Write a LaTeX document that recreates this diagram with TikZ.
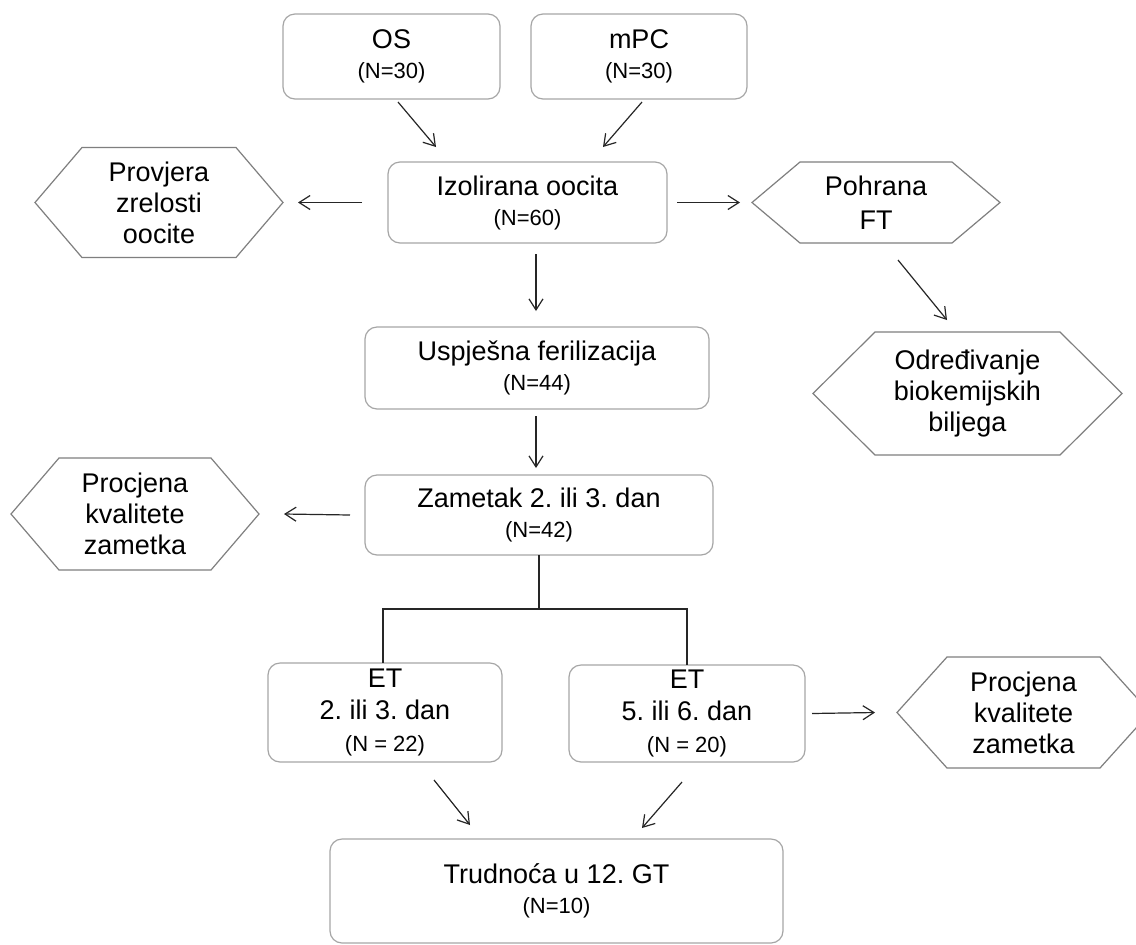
\documentclass[tikz,border=0pt]{standalone}
\usepackage{fontspec}
\setmainfont{Liberation Sans}
\usetikzlibrary{arrows.meta, calc, positioning}
\frenchspacing

\definecolor{boxgray}{HTML}{A6A6A6}
\definecolor{hexgray}{HTML}{7F7F7F}
\definecolor{linegray}{HTML}{262626}

\newcommand{\hexframe}[2]{%
  \draw[hexline] (#1.west) -- ([xshift=#2]#1.north west) -- ([xshift=-#2]#1.north east)
    -- (#1.east) -- ([xshift=-#2]#1.south east) -- ([xshift=#2]#1.south west) -- cycle;}
\newcommand{\nsmall}[1]{{\fontsize{11}{15}\selectfont #1}}

\begin{document}
\begin{tikzpicture}[x=0.5pt, y=-0.5pt,
  box/.style={draw=boxgray, line width=0.6pt, rounded corners=6pt, align=center,
    inner sep=0pt, outer sep=0pt, font=\fontsize{13.5}{15}\selectfont},
  hexbox/.style={align=center, inner sep=0pt, outer sep=0pt,
    font=\fontsize{13.5}{15.5}\selectfont},
  hexline/.style={draw=hexgray, line width=0.6pt},
  arr/.style={draw=linegray, line width=0.6pt, -{Straight Barb[length=5.5pt,width=7pt]}},
  link/.style={draw=linegray, line width=0.6pt}]

\fill[white] (0,0) rectangle (1136,944);
\useasboundingbox (0,0) rectangle (1136,944);

\node[box, minimum width=108.5pt, minimum height=42.5pt] (os) at (391.5,56.5) {OS\\\nsmall{(N=30)}};
\node[box, minimum width=108pt, minimum height=42.5pt] (mpc) at (639,56.5) {mPC\\\nsmall{(N=30)}};
\node[box, minimum width=139.5pt, minimum height=40.5pt] (izo) at (527.5,202.5) {Izolirana oocita\\\nsmall{(N=60)}};
\node[box, minimum width=172pt, minimum height=41pt] (usp) at (537,368) {Uspješna ferilizacija\\\nsmall{(N=44)}};
\node[box, minimum width=174pt, minimum height=40pt] (zam) at (539,515) {Zametak 2. ili 3. dan\\\nsmall{(N=42)}};
\node[box, minimum width=117pt, minimum height=49.5pt] (etl) at (385,712.5) {ET\\[1pt]2. ili 3. dan\\[1pt]\nsmall{(N = 22)}};
\node[box, minimum width=118pt, minimum height=48.5pt] (etr) at (687,713.5) {ET\\[1pt]5. ili 6. dan\\[1pt]\nsmall{(N = 20)}};
\node[box, minimum width=226.5pt, minimum height=52pt] (tru) at (556.5,891) {Trudnoća u 12. GT\\\nsmall{(N=10)}};

\node[hexbox, minimum width=124pt, minimum height=55pt] (prov) at (159,202.5) {Provjera\\zrelosti\\oocite};
\node[hexbox, minimum width=124pt, minimum height=40.5pt] (poh) at (876,202.5) {Pohrana\\[1.5pt]FT};
\node[hexbox, minimum width=154.5pt, minimum height=61.5pt] (odr) at (967.5,393.5) {Određivanje\\biokemijskih\\biljega};
\node[hexbox, minimum width=124pt, minimum height=56pt] (proc1) at (135,514) {Procjena\\kvalitete\\zametka};
\node[hexbox, minimum width=126.5pt, minimum height=55.5pt] (proc2) at (1023.5,712.5) {Procjena\\kvalitete\\zametka};

\hexframe{prov}{23.5pt}
\hexframe{poh}{24pt}
\hexframe{odr}{31pt}
\hexframe{proc1}{24pt}
\hexframe{proc2}{25pt}

\draw[arr] ($(os.south)+(6.5,3)$) -- ($(izo.north)+(-91.5,-15)$);
\draw[arr] ($(mpc.south)+(3,3)$) -- ($(izo.north)+(75.5,-15)$);
\draw[arr] ([xshift=-13pt]izo.west) -- ([xshift=7.5pt]prov.east);
\draw[arr] ([xshift=5pt]izo.east) -- ([xshift=-6pt]poh.west);
\draw[arr] ($(poh.south)+(22,17)$) -- ($(odr.north)+(-20.5,-12)$);
\draw[arr] ($(izo.south -| usp.north)+(-1,11)$) -- ($(usp.north)+(-1,-16)$);
\draw[arr] ($(usp.south)+(-1,7)$) -- ($(usp.south |- zam.north)+(-1,-7)$);
\draw[arr] ([xshift=-7.5pt]zam.west) -- ([xshift=12.5pt]proc1.east);

\coordinate (fork) at (539,609);
\draw[link] (zam.south) -- (fork);
\draw[link] (fork) -| ([xshift=-1pt]etl.north);
\draw[link] (fork) -| (etr.north);

\draw[arr] ([xshift=3.5pt]etr.east) -- ([xshift=-11pt]proc2.west);
\draw[arr] ($(etl.south)+(49,18)$) -- ($(tru.north)+(-86.5,-14)$);
\draw[arr] ($(etr.south)+(-5,20)$) -- ($(tru.north)+(85.5,-11)$);
\end{tikzpicture}
\end{document}
